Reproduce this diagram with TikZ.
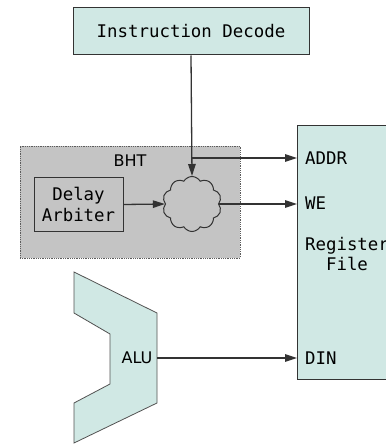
\documentclass[tikz,border=0pt]{standalone}
\usepackage{fontspec}
\setmainfont{DejaVu Sans}
\setmonofont{DejaVu Sans Mono}
\usetikzlibrary{arrows.meta,shapes.symbols}

\definecolor{unitfill}{HTML}{D0E8E4}
\definecolor{bhtfill}{HTML}{C4C4C4}
\definecolor{wire}{HTML}{333333}

\begin{document}
\begin{tikzpicture}[x=1bp, y=-1bp,
    unit/.style={draw=wire, fill=unitfill, line width=1bp},
    mono/.style={font=\fontsize{17.4bp}{20.5bp}\selectfont\ttfamily},
    port/.style={mono, anchor=west, inner xsep=8bp, inner ysep=0pt},
    conn/.style={draw=wire, line width=1.3bp, -{Triangle[length=12bp,width=7.5bp]}}]
    \useasboundingbox (0,0) rectangle (385,445);

    % Decodificador de instrucciones
    \node[unit, mono, minimum width=236bp, minimum height=47bp] (decode) at (191,31.5) {Instruction Decode};

    % Banco de registros
    \node[unit, minimum width=100bp, minimum height=253bp] (regfile) at (347,252.5) {};
    \node[port] (addr) at (297,158) {ADDR};
    \node[port] (we) at (297,203) {WE};
    \node[port] (din) at (297,358) {DIN};
    \node[mono, align=center] (regname) at (347,254) {Register\\File};

    % BHT
    \node[fill=bhtfill, draw=wire!80, densely dotted, line width=0.8bp,
          minimum width=220bp, minimum height=112bp] (bht) at (130,202) {};
    \node[font=\fontsize{16bp}{19bp}\selectfont] (bhtname) at (130,161) {BHT};
    \node[draw=wire, line width=1bp, mono, align=center,
          minimum width=89bp, minimum height=53bp, inner sep=2bp] (arbiter) at (78.5,204.5) {Delay\\Arbiter};
    \node[cloud, draw=wire, fill=bhtfill, line width=1bp, cloud puffs=10, cloud puff arc=120,
          minimum width=59bp, minimum height=55bp, inner sep=0pt] (cloud) at (192,204) {};

    % ALU
    \draw[draw=wire!85, fill=unitfill, line width=0.8bp]
        (74,272) -- (157,313) -- (157,403) -- (74,443) -- (74,403)
        -- (110,384) -- (110,334) -- (74,313) -- cycle;
    \node[font=\fontsize{16bp}{19bp}\selectfont] (alu) at (137,358) {ALU};
    \coordinate (aluout) at (157,358);

    % Conexiones
    \draw[conn] (decode.south) -- (cloud.north);
    \draw[conn] (decode.south |- addr.west) -- (addr.west);
    \draw[conn] (arbiter.east) -- (cloud.west);
    \draw[conn] (cloud.east) -- (cloud.east -| we.west);
    \draw[conn] (aluout) -- (din.west);
\end{tikzpicture}
\end{document}
